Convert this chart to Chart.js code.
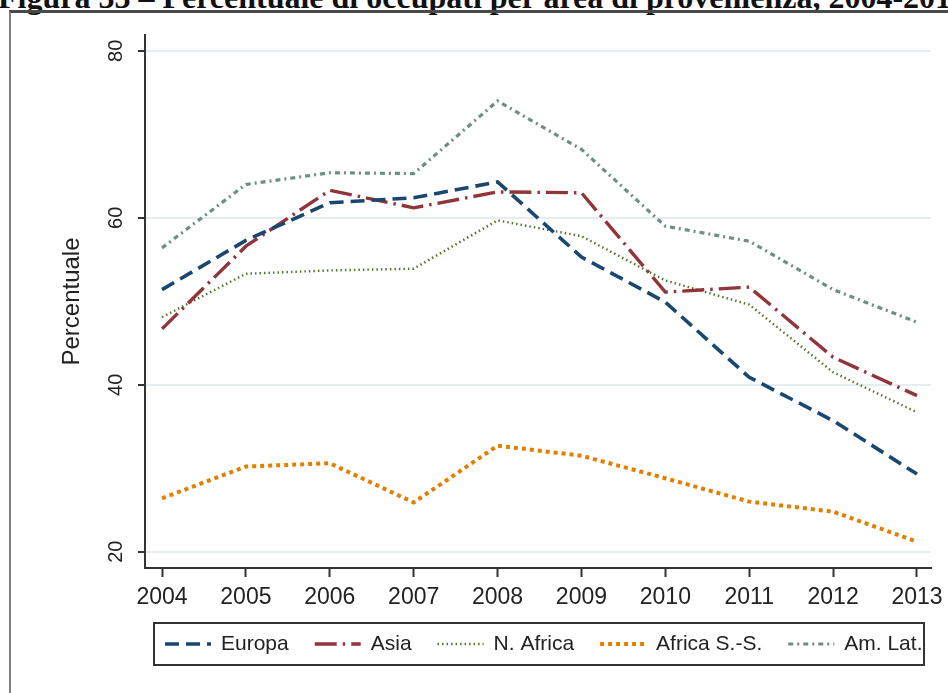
<!DOCTYPE html>
<html>
<head>
<meta charset="utf-8">
<script src="https://cdn.jsdelivr.net/npm/chart.js@4.4.1/dist/chart.umd.min.js"></script>
<style>
  body { margin: 0; background: #fff; overflow: hidden; }
  #wrap { position: relative; width: 948px; height: 693px; overflow: hidden; }
  #title {
    position: absolute; left: -2px; top: -18px; white-space: nowrap;
    font: bold 32px/31px "Liberation Serif", "Times New Roman", serif; color: #111;
  }
  #frame {
    position: absolute; left: 9px; top: 10px; width: 960px; height: 700px;
    border-top: 3px solid #4a4a4a; border-left: 2px solid #808080;
  }
  canvas { position: absolute; left: 0; top: 0; }
</style>
</head>
<body>
<div id="wrap">
  <div id="title">Figura 33 – Percentuale di occupati per area di provenienza, 2004-2013</div>
  <div id="frame"></div>
  <canvas id="chart" width="948" height="693"></canvas>
</div>
<script>
//Data
const years = [2004, 2005, 2006, 2007, 2008, 2009, 2010, 2011, 2012, 2013];
const europa = [51.4, 57.3, 61.8, 62.4, 64.3, 55.3, 49.9, 40.9, 35.7, 29.3];
const asia = [46.7, 56.6, 63.3, 61.2, 63.1, 63.0, 51.1, 51.7, 43.3, 38.7];
const nAfrica = [48.1, 53.3, 53.7, 53.9, 59.7, 57.8, 52.5, 49.6, 41.5, 36.7];
const africaSS = [26.4, 30.2, 30.6, 25.9, 32.7, 31.5, 28.8, 26.0, 24.8, 21.2];
const amLat = [56.4, 64.0, 65.4, 65.3, 74.0, 68.2, 59.0, 57.2, 51.4, 47.5];
const yTicks = [20, 40, 60, 80];
const seriesNames = ["Europa", "Asia", "N. Africa", "Africa S.-S.", "Am. Lat."];

function toPoints(vals) {
  return years.map((yr, i) => ({ x: yr, y: vals[i] }));
}

// legend drawn inside a box under the axis, like the original
const boxLegend = {
  id: "boxLegend",
  afterDraw(chart) {
    const ctx = chart.ctx;
    ctx.save();
    ctx.strokeStyle = "#333";
    ctx.lineWidth = 2;
    ctx.strokeRect(154, 623, 770, 42);
    ctx.font = '21px "Liberation Sans", Arial, sans-serif';
    ctx.textBaseline = "middle";
    ctx.fillStyle = "#222";
    let x = 165;
    const y = 644;
    chart.data.datasets.forEach((ds) => {
      ctx.beginPath();
      ctx.strokeStyle = ds.borderColor;
      ctx.lineWidth = ds.borderWidth;
      ctx.setLineDash(ds.borderDash);
      ctx.moveTo(x, y);
      ctx.lineTo(x + 46, y);
      ctx.stroke();
      ctx.setLineDash([]);
      x += 56;
      ctx.fillText(ds.label, x, y);
      x += ctx.measureText(ds.label).width + 26;
    });
    ctx.restore();
  },
};

new Chart(document.getElementById("chart"), {
  type: "line",
  data: {
    datasets: [
      { label: seriesNames[0], data: toPoints(europa), borderColor: "#1a476f", borderWidth: 3.6, borderDash: [14, 7] },
      { label: seriesNames[1], data: toPoints(asia), borderColor: "#90353b", borderWidth: 3.4, borderDash: [22, 6, 2.5, 6] },
      { label: seriesNames[2], data: toPoints(nAfrica), borderColor: "#55752f", borderWidth: 2.4, borderDash: [1.5, 3] },
      { label: seriesNames[3], data: toPoints(africaSS), borderColor: "#e37e00", borderWidth: 4, borderDash: [4, 4] },
      { label: seriesNames[4], data: toPoints(amLat), borderColor: "#6e8e84", borderWidth: 3.2, borderDash: [5, 4, 2, 4] },
    ],
  },
  options: {
    responsive: false,
    animation: false,
    layout: { padding: { left: 0, top: 35, right: 17, bottom: 75 } },
    elements: { point: { radius: 0 }, line: { tension: 0, fill: false, borderCapStyle: "butt" } },
    plugins: { legend: { display: false }, tooltip: { enabled: false } },
    scales: {
      x: {
        type: "linear",
        min: 2003.797,
        max: 2013.167,
        afterBuildTicks: (s) => { s.ticks = years.map((v) => ({ value: v })); },
        afterFit: (s) => { s.height = 50; s.paddingLeft = 0; s.paddingRight = 0; },
        border: { color: "#333", width: 2 },
        grid: { drawOnChartArea: false, tickLength: 9, tickColor: "#333", tickWidth: 2 },
        ticks: {
          autoSkip: false, maxRotation: 0, padding: 7, color: "#222",
          font: { family: '"Liberation Sans", Arial, sans-serif', size: 23 },
          callback: (v) => String(v),
        },
      },
      y: {
        min: 18.05,
        max: 81.9,
        afterBuildTicks: (s) => { s.ticks = yTicks.map((v) => ({ value: v })); },
        afterFit: (s) => { s.width = 145; },
        border: { color: "#333", width: 2 },
        grid: { color: "#e6edf1", lineWidth: 2, tickLength: 7, tickColor: "#333", tickWidth: 2 },
        ticks: {
          minRotation: 90, maxRotation: 90, crossAlign: "center", padding: 10, color: "#222",
          font: { family: '"Liberation Sans", Arial, sans-serif', size: 20 },
        },
        title: {
          display: true, text: "Percentuale", color: "#222",
          padding: { top: 58, bottom: 0 },
          font: { family: '"Liberation Sans", Arial, sans-serif', size: 24 },
        },
      },
    },
  },
  plugins: [boxLegend],
});
</script>
</body>
</html>
